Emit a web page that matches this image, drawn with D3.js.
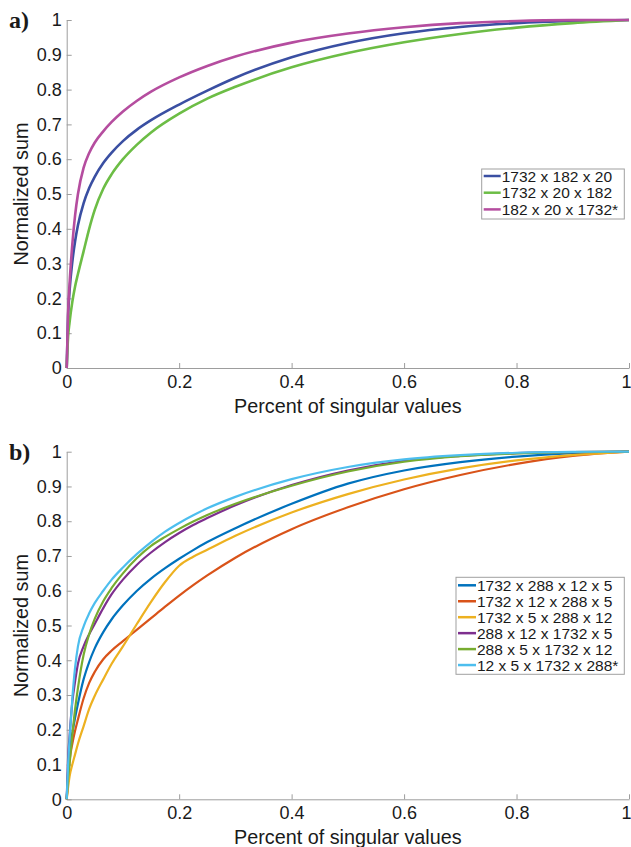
<!DOCTYPE html>
<html>
<head>
<meta charset="utf-8">
<script src="https://cdn.jsdelivr.net/npm/d3@7"></script>
<style>
  html, body { margin: 0; padding: 0; background: #fff; }
  svg { display: block; }
  text { font-family: "Liberation Sans", Arial, Helvetica, sans-serif; fill: #1a1a1a; }
</style>
</head>
<body>
<svg id="chart" width="631" height="847"></svg>
<script>
// Cumulative normalized sum of singular values vs. fraction of singular values kept

// Panel a: three-way unfoldings
const gridA = [0, 0.0025, 0.005, 0.01, 0.015, 0.02, 0.03, 0.04, 0.05, 0.065, 0.08, 0.1, 0.125, 0.15, 0.2, 0.25, 0.3, 0.4, 0.5, 0.6, 0.7, 0.8, 0.9, 1];
const namesA = ["1732 x 182 x 20", "1732 x 20 x 182", "182 x 20 x 1732*"];
const colorsA = ["#3a4fa2", "#6cbd45", "#b54d9f"];
const a1732_182_20 = [0, 0.15, 0.22, 0.305, 0.365, 0.41, 0.473, 0.517, 0.55, 0.589, 0.619, 0.652, 0.685, 0.712, 0.757, 0.797, 0.834, 0.893, 0.934, 0.962, 0.98, 0.991, 0.997, 1];
const a1732_20_182 = [0, 0.09, 0.13, 0.19, 0.235, 0.27, 0.335, 0.40, 0.455, 0.515, 0.557, 0.60, 0.642, 0.677, 0.731, 0.774, 0.808, 0.864, 0.905, 0.936, 0.96, 0.978, 0.991, 1];
const a182_20_1732 = [0, 0.16, 0.24, 0.355, 0.44, 0.50, 0.575, 0.618, 0.648, 0.68, 0.707, 0.737, 0.768, 0.794, 0.835, 0.868, 0.895, 0.935, 0.961, 0.979, 0.991, 0.997, 0.9995, 1];

// Panel b: four-way unfoldings
const gridB = [0, 0.0025, 0.005, 0.01, 0.015, 0.02, 0.03, 0.04, 0.05, 0.065, 0.08, 0.1, 0.125, 0.15, 0.175, 0.2, 0.225, 0.25, 0.3, 0.4, 0.5, 0.6, 0.7, 0.8, 0.9, 1];
const namesB = ["1732 x 288 x 12 x 5", "1732 x 12 x 288 x 5", "1732 x 5 x 288 x 12",
                "288 x 12 x 1732 x 5", "288 x 5 x 1732 x 12", "12 x 5 x 1732 x 288*"];
const colorsB = ["#0072bd", "#d95319", "#edb120", "#7e2f8e", "#77ac30", "#4dbeee"];
const b1732_288_12_5 = [0, 0.08, 0.13, 0.19, 0.235, 0.275, 0.345, 0.395, 0.435, 0.481, 0.518, 0.558, 0.60, 0.635, 0.665, 0.692, 0.717, 0.74, 0.78, 0.85, 0.908, 0.946, 0.97, 0.986, 0.996, 1];
const b1732_12_288_5 = [0, 0.06, 0.11, 0.16, 0.198, 0.23, 0.29, 0.335, 0.367, 0.403, 0.428, 0.455, 0.488, 0.521, 0.554, 0.586, 0.616, 0.644, 0.695, 0.777, 0.84, 0.892, 0.933, 0.965, 0.988, 1];
const b1732_5_288_12 = [0, 0.035, 0.065, 0.10, 0.13, 0.16, 0.21, 0.26, 0.298, 0.345, 0.39, 0.44, 0.505, 0.568, 0.625, 0.672, 0.698, 0.718, 0.758, 0.825, 0.878, 0.92, 0.952, 0.975, 0.99, 1];
const b288_12_1732_5 = [0, 0.12, 0.18, 0.28, 0.34, 0.39, 0.44, 0.475, 0.505, 0.55, 0.59, 0.632, 0.675, 0.71, 0.74, 0.766, 0.789, 0.809, 0.846, 0.904, 0.946, 0.974, 0.988, 0.996, 0.999, 1];
const b288_5_1732_12 = [0, 0.06, 0.10, 0.185, 0.26, 0.32, 0.415, 0.475, 0.52, 0.57, 0.608, 0.65, 0.694, 0.729, 0.755, 0.778, 0.799, 0.818, 0.85, 0.902, 0.943, 0.971, 0.987, 0.995, 0.999, 1];
const b12_5_1732_288 = [0, 0.10, 0.17, 0.29, 0.38, 0.44, 0.497, 0.535, 0.565, 0.60, 0.632, 0.667, 0.706, 0.74, 0.77, 0.795, 0.817, 0.837, 0.87, 0.921, 0.956, 0.978, 0.99, 0.997, 0.9995, 1];

const xTicks = [0, 0.2, 0.4, 0.6, 0.8, 1];
const yTicks = [0, 0.1, 0.2, 0.3, 0.4, 0.5, 0.6, 0.7, 0.8, 0.9, 1];
const xTitle = "Percent of singular values";
const yTitle = "Normalized sum";

const svg = d3.select("#chart");
const axisColor = "#9d9d9d";
const fmt = d => d === 0 ? "0" : d === 1 ? "1" : String(+d.toFixed(1));

function panel(opts) {
  const x = d3.scaleLinear().domain([0, 1]).range([66.7, 629]);
  const y = d3.scaleLinear().domain([0, 1]).range([opts.bottom, opts.top]);
  const g = svg.append("g");

  // axes (ticks pointing inward, no box)
  const xa = g.append("g").attr("transform", `translate(0,${opts.bottom})`)
    .call(d3.axisBottom(x).tickValues(xTicks).tickFormat(fmt).tickSize(-5).tickSizeOuter(0).tickPadding(7));
  const ya = g.append("g").attr("transform", "translate(66.7,0)")
    .call(d3.axisLeft(y).tickValues(yTicks).tickFormat(fmt).tickSize(-5).tickSizeOuter(0).tickPadding(5));
  [xa, ya].forEach(a => {
    a.select(".domain").attr("stroke", axisColor).attr("stroke-width", 1);
    a.selectAll(".tick line").attr("stroke", axisColor);
    a.selectAll(".tick text").attr("fill", "#1a1a1a").style("font-size", "18px")
      .style("font-family", '"Liberation Sans", Arial, sans-serif');
  });
  // keep the last x label inside the page edge
  xa.selectAll(".tick text").filter(d => d === 1).attr("dx", -3);

  // series
  const line = d3.line().x(d => x(d[0])).y(d => y(d[1])).curve(d3.curveMonotoneX);
  opts.series.forEach((s, i) => {
    g.append("path")
      .datum(opts.grid.map((gx, k) => [gx, s[k]]))
      .attr("fill", "none")
      .attr("stroke", opts.colors[i])
      .attr("stroke-width", opts.lw)
      .attr("stroke-linejoin", "round")
      .attr("d", line);
  });

  // titles
  g.append("text").attr("x", (x(0) + x(1)) / 2).attr("y", opts.bottom + 45)
    .attr("text-anchor", "middle").style("font-size", "19.8px").text(xTitle);
  g.append("text")
    .attr("transform", `translate(28.3,${(opts.top + opts.bottom) / 2}) rotate(-90)`)
    .attr("text-anchor", "middle").style("font-size", "19.8px").text(yTitle);

  // panel letter
  g.append("text").attr("x", 9).attr("y", opts.top + opts.letterDy)
    .style("font-family", '"Liberation Serif", "Times New Roman", serif')
    .style("font-weight", "bold").style("font-size", "24px").text(opts.letter);

  // legend
  const L = opts.legend;
  g.append("rect").attr("x", L.x).attr("y", L.y).attr("width", L.w).attr("height", L.h)
    .attr("fill", "#fff").attr("stroke", "#a0a0a0").attr("stroke-width", 1);
  opts.names.forEach((n, i) => {
    const cy = L.y + L.pad + i * L.step;
    g.append("line").attr("x1", L.x + 2).attr("x2", L.x + 2 + L.len)
      .attr("y1", cy).attr("y2", cy).attr("stroke", opts.colors[i]).attr("stroke-width", 2.5);
    g.append("text").attr("x", L.x + 3 + L.len).attr("y", cy + 5.5)
      .style("font-size", "15.5px").text(n);
  });
}

panel({
  top: 20, bottom: 368, letter: "a)", letterDy: 8, lw: 2.6,
  grid: gridA, series: [a1732_182_20, a1732_20_182, a182_20_1732],
  names: namesA, colors: colorsA,
  legend: { x: 481.7, y: 169, w: 142.6, h: 50, pad: 7, step: 16.7, len: 17 }
});

panel({
  top: 451.7, bottom: 799.3, letter: "b)", letterDy: 8, lw: 2.2,
  grid: gridB, series: [b1732_288_12_5, b1732_12_288_5, b1732_5_288_12, b288_12_1732_5, b288_5_1732_12, b12_5_1732_288],
  names: namesB, colors: colorsB,
  legend: { x: 456, y: 577.3, w: 168.3, h: 97, pad: 8, step: 15.95, len: 18 }
});
</script>
</body>
</html>
